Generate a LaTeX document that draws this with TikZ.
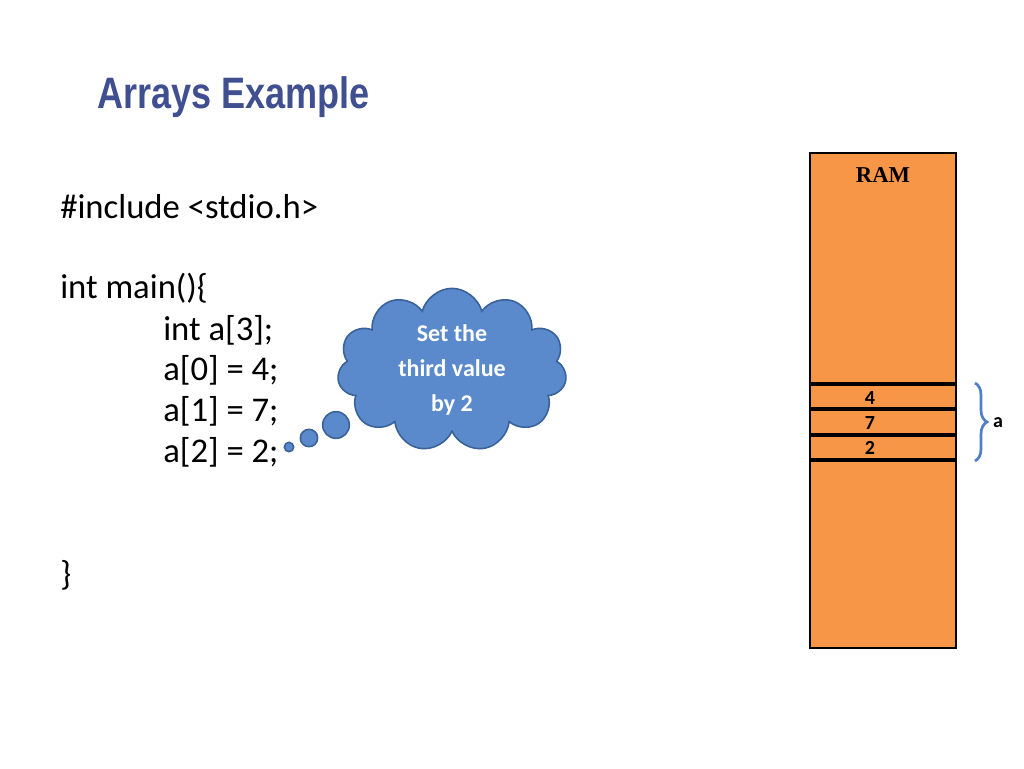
\documentclass[tikz,border=0pt]{standalone}
\usepackage{fontspec}
\setmainfont{Carlito}
\newfontfamily\titlefont{Liberation Sans}
\newfontfamily\ramfont{Liberation Serif}
\usetikzlibrary{shapes.symbols,decorations.pathreplacing}
\definecolor{titleblue}{HTML}{3F4F8F}
\definecolor{cloudfill}{HTML}{5A8ACB}
\definecolor{cloudline}{HTML}{3A629A}
\definecolor{ramfill}{HTML}{F79646}
\definecolor{braceblue}{HTML}{4F7FC8}
\begin{document}
\begin{tikzpicture}[x=0.75pt,y=-0.75pt,
  code/.style={anchor=west,inner sep=0,font=\fontsize{26}{30}\selectfont},
  bub/.style={circle,fill=cloudfill,draw=cloudline,line width=1.2pt,inner sep=0},
  cell/.style={font=\bfseries\fontsize{15}{17}\selectfont,inner sep=0},
  sep/.style={line width=3pt}]
\useasboundingbox (0,0) rectangle (1024,768);
\node[anchor=west,inner sep=0,text=titleblue,font=\titlefont\bfseries\fontsize{33}{36}\selectfont,xscale=0.82] (title) at (97,97) {Arrays Example};
\node[code] (inc) at (60,207) {\#include <stdio.h>};
\node[code] (main) at (60,288) {int main()\{};
\node[code] (l1) at (163,330) {int a[3];};
\node[code] (l2) at (163,370) {a[0] = 4;};
\node[code] (l3) at (163,411) {a[1] = 7;};
\node[code] (l4) at (163,452) {a[2] = 2;};
\node[code] (close) at (60,575) {\}};
\node[cloud,cloud puffs=11,aspect=1.5,fill=cloudfill,draw=cloudline,line width=1.2pt,minimum width=172pt,minimum height=112pt,text=white,align=center,font=\bfseries\fontsize{18}{26}\selectfont,inner sep=0] (cloud) at (452,370) {Set the\\third value\\by 2};
\node[bub,minimum size=20pt] (b1) at (336,425) {};
\node[bub,minimum size=13pt] (b2) at (309,438) {};
\node[bub,minimum size=7pt] (b3) at (289,447) {};
\draw[fill=ramfill,draw=black,line width=1.5pt] (810,153) rectangle (956,648);
\node[font=\ramfont\bfseries\fontsize{17}{19}\selectfont,inner sep=0] (ram) at (883,175) {RAM};
\foreach \y in {384,409,435,460} \draw[sep] (810,\y) -- (956,\y);
\node[cell] (c0) at (870,398) {4};
\node[cell] (c1) at (870,423) {7};
\node[cell] (c2) at (870,448) {2};
\coordinate (bt) at (975,383);
\coordinate (bb) at (975,461);
\draw[braceblue,line width=2pt,decorate,decoration={brace,amplitude=9pt}] (bt) -- (bb);
\node[font=\bfseries\fontsize{15}{17}\selectfont,inner sep=0] (alab) at (998,423) {a};
\end{tikzpicture}
\end{document}
